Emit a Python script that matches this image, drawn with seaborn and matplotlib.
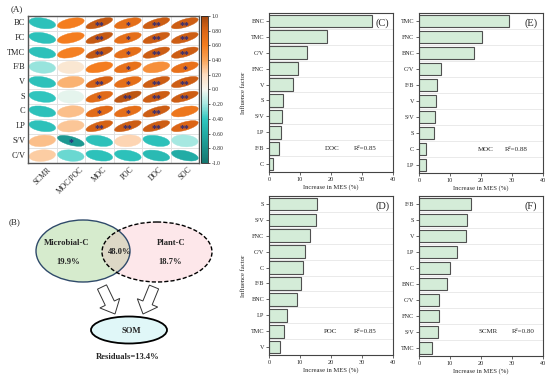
import numpy as np
import matplotlib
matplotlib.use("Agg")
import matplotlib.pyplot as plt
import matplotlib.patches as mpatches
import matplotlib.transforms as mtransforms
from matplotlib.colors import LinearSegmentedColormap, ListedColormap, Normalize
import seaborn as sns
import pandas as pd

# ---- data ----
rows = ["BC", "FC", "TMC", "F/B", "V", "S", "C", "LP", "S/V", "C/V"]
cols = ["SCMR", "MOC/POC", "MOC", "POC", "DOC", "SOC"]
corr = [
    [-0.45, 0.60, 0.88, 0.72, 0.85, 0.85],
    [-0.45, 0.60, 0.88, 0.72, 0.85, 0.85],
    [-0.45, 0.58, 0.88, 0.72, 0.85, 0.85],
    [-0.22, 0.12, 0.60, 0.70, 0.50, 0.70],
    [-0.45, 0.35, 0.82, 0.72, 0.85, 0.85],
    [-0.42, -0.04, 0.75, 0.90, 0.85, 0.85],
    [-0.45, 0.30, 0.75, 0.72, 0.85, 0.65],
    [-0.45, 0.28, 0.82, 0.85, 0.85, 0.80],
    [0.30, -0.75, -0.45, 0.22, -0.45, -0.20],
    [0.25, -0.30, -0.45, -0.45, -0.50, -0.60],
]
stars = [
    ["", "", "**", "*", "**", "**"],
    ["", "", "**", "*", "**", "**"],
    ["", "", "**", "*", "**", "**"],
    ["", "", "", "*", "", "*"],
    ["", "", "**", "*", "**", "**"],
    ["", "", "*", "**", "**", "**"],
    ["", "", "*", "*", "**", ""],
    ["", "", "**", "**", "**", "**"],
    ["", "*", "", "", "", ""],
    ["", "", "", "", "", ""],
]

venn_labels = ["Microbial-C", "Plant-C"]
venn_unique = ["19.9%", "18.7%"]
venn_shared = "48.0%"
residuals = "Residuals=13.4%"

doc_factors = ["BNC", "TMC", "C/V", "FNC", "V", "S", "S/V", "LP", "F/B", "C"]
doc_values = [33.1, 18.6, 12.2, 9.5, 7.6, 4.4, 4.3, 4.0, 3.3, 1.4]
moc_factors = ["TMC", "FNC", "BNC", "C/V", "F/B", "V", "S/V", "S", "C", "LP"]
moc_values = [29.1, 20.4, 17.8, 7.1, 5.7, 5.6, 5.3, 4.9, 2.2, 2.1]
poc_factors = ["S", "S/V", "FNC", "C/V", "C", "F/B", "BNC", "LP", "TMC", "V"]
poc_values = [15.4, 15.2, 13.2, 11.6, 11.1, 10.2, 8.9, 5.9, 4.9, 3.7]
scmr_factors = ["F/B", "S", "V", "LP", "C", "BNC", "C/V", "FNC", "S/V", "TMC"]
scmr_values = [16.9, 15.6, 15.1, 12.2, 10.0, 9.1, 6.5, 6.5, 6.2, 4.3]

sns.set_style("ticks")
plt.rcParams["font.family"] = ["Liberation Serif", "DejaVu Serif"]
plt.rcParams["axes.linewidth"] = 0.8

cmap = LinearSegmentedColormap.from_list("corr", [
    (0.0, "#15766f"), (0.2, "#22aca5"), (0.3, "#31c8c1"), (0.4, "#a6e8e1"),
    (0.5, "#f6f7f0"), (0.6, "#fddcbf"), (0.7, "#f9a458"), (0.8, "#f47d1f"),
    (0.9, "#dc6616"), (1.0, "#a3480f")])

fig = plt.figure(figsize=(5.5, 3.78), dpi=100)

# ---- (A) correlation ellipses ----
axA = fig.add_axes([0.051, 0.569, 0.311, 0.389])
df = pd.DataFrame(corr, index=rows, columns=cols)
sns.heatmap(df, ax=axA, cmap=ListedColormap(["white"]), cbar=False,
            linewidths=0.6, linecolor="#e2e2e2", xticklabels=cols, yticklabels=rows)
for i in range(len(rows)):
    for j in range(len(cols)):
        r = df.iloc[i, j]
        c = cmap((r + 1) / 2)
        # ellipse sized in inches, centred on the cell
        tr = fig.dpi_scale_trans + mtransforms.ScaledTranslation(j + 0.5, i + 0.5, axA.transData)
        axA.add_patch(mpatches.Ellipse((0, 0), 0.26 * (1 + 0.08 * abs(r)),
                                       0.13 * (1 - 0.45 * abs(r)), angle=20 * r,
                                       transform=tr, facecolor=c, edgecolor=c, lw=0.3))
        if stars[i][j]:
            axA.text(j + 0.5, i + 0.64, stars[i][j], ha="center", va="center",
                     color="#2b2a7a", fontsize=7, fontweight="bold")
for s in axA.spines.values():
    s.set_visible(True)
    s.set_color("#555555")
    s.set_linewidth(1.0)
axA.tick_params(length=0, pad=2)
axA.set_yticklabels(rows, rotation=0, fontsize=6)
axA.set_xticklabels(cols, rotation=45, ha="center", fontsize=5.5)
axA.set_xlabel("")
axA.set_ylabel("")
fig.text(0.02, 0.975, "(A)", fontsize=6.5, va="center")

cax = fig.add_axes([0.366, 0.569, 0.013, 0.389])
cb = fig.colorbar(matplotlib.cm.ScalarMappable(norm=Normalize(-1, 1), cmap=cmap), cax=cax)
ticks = np.linspace(-1, 1, 11)
cb.set_ticks(ticks)
cb.set_ticklabels(["-1.0", "-0.80", "-0.60", "-0.40", "-0.20", "0.0",
                   "0.20", "0.40", "0.60", "0.80", "1.0"])
cb.ax.tick_params(labelsize=4, length=1.5, width=0.5, pad=1)
cb.outline.set_linewidth(0.6)

# ---- (B) Venn ----
axB = fig.add_axes([0, 0, 230 / 550, 178 / 378])
axB.set_xlim(0, 230)
axB.set_ylim(378, 200)
axB.axis("off")
left = mpatches.Ellipse((83, 251), 94, 62, facecolor="#d6ebcd", edgecolor="none")
right = mpatches.Ellipse((157, 252), 110, 60, facecolor="#fde7ea", edgecolor="none")
axB.add_patch(left)
axB.add_patch(right)
clip = mpatches.Ellipse((157, 252), 110, 60, transform=axB.transData)
inter = mpatches.Ellipse((83, 251), 94, 62, facecolor="#ddd8c6", edgecolor="none")
axB.add_patch(inter)
inter.set_clip_path(clip)
axB.add_patch(mpatches.Ellipse((83, 251), 94, 62, facecolor="none",
                               edgecolor="#2f4a6a", lw=1.0))
axB.add_patch(mpatches.Ellipse((157, 252), 110, 60, facecolor="none",
                               edgecolor="black", lw=1.0, ls=(0, (3, 1.5))))
axB.add_patch(mpatches.FancyArrow(102, 287, 13, 27, width=10, head_width=22,
                                  head_length=12, length_includes_head=True,
                                  facecolor="white", edgecolor="#333333", lw=0.7))
axB.add_patch(mpatches.FancyArrow(154, 287, -11, 27, width=10, head_width=22,
                                  head_length=12, length_includes_head=True,
                                  facecolor="white", edgecolor="#333333", lw=0.7))
axB.add_patch(mpatches.Ellipse((129, 330), 76, 27, facecolor="#e0f7f8",
                               edgecolor="black", lw=1.3))
bold = dict(ha="center", va="center", fontsize=6.2, fontweight="bold")
axB.text(67, 243, venn_labels[0], **bold)
axB.text(68, 262, venn_unique[0], **bold)
axB.text(171, 243, venn_labels[1], **bold)
axB.text(170, 262, venn_unique[1], **bold)
axB.text(120, 252, venn_shared, **bold)
axB.text(131, 331, "SOM", **bold)
axB.text(128, 357, residuals, **bold)
axB.text(15, 222, "(B)", ha="center", va="center", fontsize=6.5)

# ---- (C)-(F) random forest importance ----
panels = [
    ([0.489, 0.545, 0.2255, 0.4206], doc_factors, doc_values, "(C)", "DOC", "R²=0.85", (0.506, 0.149), (0.774, 0.149), True),
    ([0.7618, 0.5423, 0.2255, 0.4233], moc_factors, moc_values, "(E)", "MOC", "R²=0.88", (0.54, 0.144), (0.788, 0.144), False),
    ([0.489, 0.0608, 0.2255, 0.4206], poc_factors, poc_values, "(D)", "POC", "R²=0.85", (0.50, 0.151), (0.774, 0.151), True),
    ([0.7618, 0.0582, 0.2255, 0.4233], scmr_factors, scmr_values, "(F)", "SCMR", "R²=0.80", (0.559, 0.154), (0.841, 0.154), False),
]
for rect, facs, vals, tag, name, r2, npos, rpos, ylab in panels:
    ax = fig.add_axes(rect)
    sns.barplot(x=vals, y=facs, orient="h", ax=ax, color="#d4ecd8",
                saturation=1, edgecolor="#505050", linewidth=0.8, width=0.8)
    ax.set_xlim(0, 40)
    ax.set_xticks([0, 10, 20, 30, 40])
    ax.set_yticks(np.arange(-0.5, len(facs), 1), minor=True)
    ax.grid(which="minor", axis="y", color="#e6e6e6", lw=0.6)
    ax.set_axisbelow(True)
    ax.tick_params(axis="both", which="major", labelsize=4.5, length=2, width=0.5, pad=1.5)
    ax.tick_params(axis="y", which="minor", length=0)
    for s in ax.spines.values():
        s.set_visible(True)
        s.set_color("#444444")
        s.set_linewidth(0.8)
    ax.set_xlabel("Increase in MES (%)", fontsize=4.8, labelpad=2)
    ax.set_ylabel("Influence factor" if ylab else "", fontsize=4.8, labelpad=3)
    ax.text(0.917 if tag in ("(C)", "(D)") else 0.9, 0.939, tag, transform=ax.transAxes,
            ha="center", va="center", fontsize=7.5)
    ax.text(*npos, name, transform=ax.transAxes, ha="center", va="center", fontsize=5)
    ax.text(*rpos, r2, transform=ax.transAxes, ha="center", va="center", fontsize=5)

fig.savefig("out.png", dpi=100)
